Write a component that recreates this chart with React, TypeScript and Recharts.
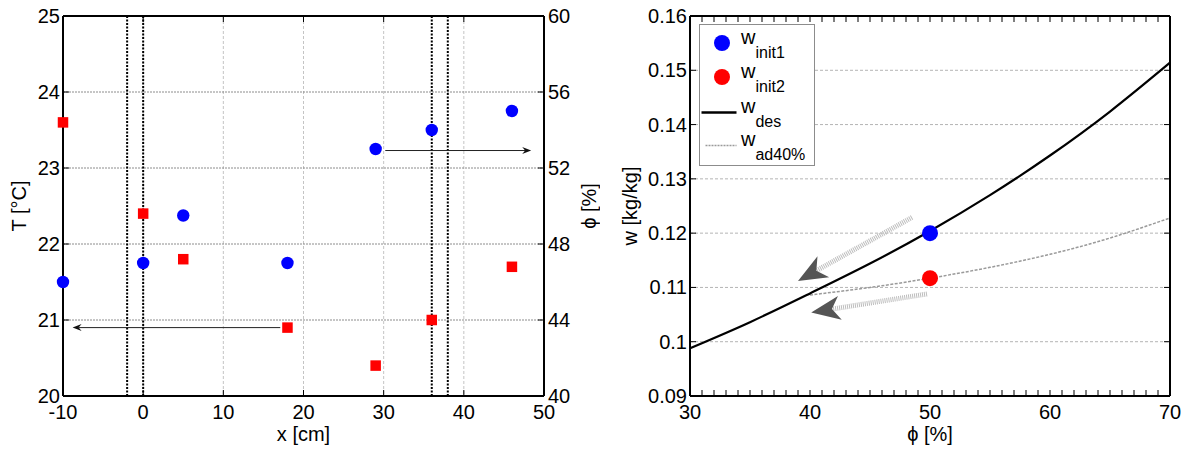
import React from 'react';
import { ComposedChart, Scatter, Line, XAxis, YAxis, CartesianGrid, ReferenceLine, Legend } from 'recharts';

const FONT = '"Liberation Sans", Arial, Helvetica, sans-serif';

// left panel: temperature (left axis) and humidity (right axis) along the duct
const positions = [-10, 0, 5, 18, 29, 36, 46];
const temperature = [23.6, 22.4, 21.8, 20.9, 20.4, 21.0, 21.7];
const humidity = [46, 47, 49.5, 47, 53, 54, 55];
const xTicks = [-10, 0, 10, 20, 30, 40, 50];
const tTicks = [20, 21, 22, 23, 24, 25];
const phiTicks = [40, 44, 48, 52, 56, 60];
const wallLines = [-2, 0, 36, 38];
const tArrow = [{ x: 17.1, y: 20.9 }, { x: -8.8, y: 20.9 }];
const phiArrow = [{ x: 30.2, y: 23.23 }, { x: 48.4, y: 23.23 }];

// right panel: humidity ratio vs relative humidity
const phiDes = [30, 35, 40, 45, 50, 55, 60, 65, 70];
const wDes = [0.0988, 0.1036, 0.1089, 0.1144, 0.1204, 0.127, 0.1343, 0.1424, 0.1514];
const phiAd = [40, 45, 50, 55, 60, 65, 70];
const wAd = [0.1086, 0.11, 0.1117, 0.1137, 0.1161, 0.1191, 0.1228];
const wInit1 = [{ x: 50, y: 0.12 }];
const wInit2 = [{ x: 50, y: 0.1117 }];
const phiMajor = [30, 40, 50, 60, 70];
const phiMinor = Array.from({ length: 41 }, (_, i) => 30 + i);
const wTicks = [0.09, 0.1, 0.11, 0.12, 0.13, 0.14, 0.15, 0.16];
const wArrows = [
  [{ x: 48.5, y: 0.1229 }, { x: 39.0, y: 0.1112 }],
  [{ x: 49.75, y: 0.1088 }, { x: 40.1, y: 0.1054 }],
];
const legendOrder = ['w_init1', 'w_init2', 'w_des', 'w_ad40%'];

const AXIS = { stroke: '#000', strokeWidth: 2 };
const TL = 6;
const PLOT_TOP = 16;

// inward MATLAB-style ticks; mirrorY / mirrorX add the matching tick on the opposite frame edge
function AxisTick(props: any) {
  const { x, y, payload, side, labels, fmt, mirrorY, mirrorX } = props;
  const v = payload.value;
  const show = !labels || labels.includes(v);
  const txt = fmt ? fmt(v) : String(v);
  const common = { fontSize: 20, fontFamily: FONT, fill: '#000' };
  if (side === 'bottom')
    return (
      <g>
        <line x1={x} x2={x} y1={y} y2={y - TL} stroke="#000" strokeWidth={1} />
        {mirrorY != null && <line x1={x} x2={x} y1={mirrorY} y2={mirrorY + TL} stroke="#000" strokeWidth={1} />}
        {show && <text x={x} y={y + 22.5} textAnchor="middle" {...common}>{txt}</text>}
      </g>
    );
  if (side === 'left')
    return (
      <g>
        <line x1={x} x2={x + TL} y1={y} y2={y} stroke="#000" strokeWidth={1} />
        {mirrorX != null && <line x1={mirrorX} x2={mirrorX - TL} y1={y} y2={y} stroke="#000" strokeWidth={1} />}
        {show && <text x={x - 3} y={y + 7} textAnchor="end" {...common}>{txt}</text>}
      </g>
    );
  return (
    <g>
      <line x1={x} x2={x - TL} y1={y} y2={y} stroke="#000" strokeWidth={1} />
      {show && <text x={x + 4} y={y + 7} textAnchor="start" {...common}>{txt}</text>}
    </g>
  );
}

// rotated axis title, centred on the axis box
const vAxisLabel = (text: string, side: 'left' | 'right', offset: number) => (p: any) => {
  const vb = p.viewBox || {};
  const cx = side === 'left' ? vb.x + offset : vb.x + vb.width - offset;
  const cy = vb.y + vb.height / 2;
  return (
    <text x={cx} y={cy} transform={`rotate(-90 ${cx} ${cy})`} textAnchor="middle" dominantBaseline="central"
      style={{ fontSize: 20, fontFamily: FONT }} fill="#000">
      {text}
    </text>
  );
};

const dotShape = (r: number, color: string) => (p: any) => <circle cx={p.cx} cy={p.cy} r={r} fill={color} />;
const squareShape = (p: any) => <rect x={p.cx - 5.25} y={p.cy - 5.25} width={10.5} height={10.5} fill="#ff0000" />;

const arrowShape = (fat: boolean) => (p: any) => {
  const { x1, y1, x2, y2 } = p;
  const len = Math.hypot(x2 - x1, y2 - y1) || 1;
  const ux = (x2 - x1) / len, uy = (y2 - y1) / len;
  const nx = -uy, ny = ux;
  const s = fat ? { back: 29, half: 12, notch: 21 } : { back: 9, half: 3.5, notch: 6 };
  const bx = x2 - ux * s.back, by = y2 - uy * s.back;
  const mx = x2 - ux * s.notch, my = y2 - uy * s.notch;
  const pts = [[x2, y2], [bx + nx * s.half, by + ny * s.half], [mx, my], [bx - nx * s.half, by - ny * s.half]]
    .map((q) => q.join(',')).join(' ');
  return (
    <g>
      {fat ? (
        <line x1={x1} y1={y1} x2={mx} y2={my} stroke="#bdbdbd" strokeWidth={5} strokeDasharray="1 1" />
      ) : (
        <line x1={x1} y1={y1} x2={mx} y2={my} stroke="#222" strokeWidth={1} />
      )}
      <polygon points={pts} fill={fat ? '#555' : '#111'} />
    </g>
  );
};

const labelStyle = { fontSize: 20, fontFamily: FONT, fill: '#000' };

function ProfileChart() {
  const tData = positions.map((x, i) => ({ x, y: temperature[i] }));
  const phiData = positions.map((x, i) => ({ x, y: humidity[i] }));
  return (
    <ComposedChart width={600} height={450} margin={{ top: 15, right: 0, bottom: 0, left: 0 }}>
      <CartesianGrid xAxisId="b" yAxisId="l" horizontal={false} stroke="#c4c4c4" strokeDasharray="3 2" />
      <CartesianGrid xAxisId="b" yAxisId="l" vertical={false} stroke="#8c8c8c" strokeDasharray="2 1" />
      <XAxis xAxisId="b" dataKey="x" type="number" domain={[-10, 50]} ticks={xTicks} interval={0}
        height={54} tickSize={0} tickMargin={0} axisLine={AXIS} tickLine={false}
        tick={<AxisTick side="bottom" mirrorY={PLOT_TOP} />}
        label={{ value: 'x [cm]', position: 'insideBottom', offset: 9, style: { fontSize: 20 }, ...labelStyle }} />
      <XAxis xAxisId="t" orientation="top" dataKey="x" type="number" domain={[-10, 50]} ticks={xTicks}
        height={1} tickSize={0} tickMargin={0} axisLine={AXIS} tickLine={false} tick={false} />
      <YAxis yAxisId="l" dataKey="y" type="number" domain={[20, 25]} ticks={tTicks} interval={0}
        width={63} tickSize={0} tickMargin={0} axisLine={AXIS} tickLine={false} tick={<AxisTick side="left" />}
        label={vAxisLabel('T [°C]', 'left', 19)} />
      <YAxis yAxisId="r" orientation="right" dataKey="y" type="number" domain={[40, 60]} ticks={phiTicks} interval={0}
        width={56} tickSize={0} tickMargin={0} axisLine={AXIS} tickLine={false} tick={<AxisTick side="right" />}
        label={vAxisLabel('ϕ [%]', 'right', 11)} />
      {wallLines.map((x) => (
        <ReferenceLine key={x} xAxisId="b" yAxisId="l" x={x} stroke="#000" strokeWidth={2} strokeDasharray="2 1.5" />
      ))}
      <Scatter xAxisId="b" yAxisId="l" data={tData} name="T" fill="#ff0000" shape={squareShape} isAnimationActive={false} />
      <Scatter xAxisId="b" yAxisId="r" data={phiData} name="phi" fill="#0000ff" shape={dotShape(6.2, '#0000ff')} isAnimationActive={false} />
      <ReferenceLine xAxisId="b" yAxisId="l" segment={tArrow} shape={arrowShape(false)} />
      <ReferenceLine xAxisId="b" yAxisId="l" segment={phiArrow} shape={arrowShape(false)} />
    </ComposedChart>
  );
}

function LegendBox(props: any) {
  const items = [...(props.payload || [])].sort(
    (a: any, b: any) => legendOrder.indexOf(a.value) - legendOrder.indexOf(b.value)
  );
  const rowY = [19, 53, 88.5, 121.5];
  return (
    <svg width={116} height={142} style={{ display: 'block' }}>
      <rect x={0.5} y={0.5} width={115} height={141} fill="#fff" stroke="#8c8c8c" />
      {items.map((it: any, i: number) => {
        const y = rowY[i];
        const [main, sub] = String(it.value).split('_');
        return (
          <g key={it.value}>
            {it.type === 'circle' ? (
              <circle cx={23} cy={y} r={8} fill={it.color} />
            ) : (
              <line x1={it.type === 'line' ? 2.5 : 6.5} x2={37.5} y1={y} y2={y} stroke={it.color}
                strokeWidth={it.type === 'line' ? 2.5 : 1.5} strokeDasharray={it.type === 'plainline' ? '2 1' : undefined} />
            )}
            <text x={42} y={y + 0.5} fontSize={20} fontFamily={FONT} fill="#000">
              {main}
              <tspan dy={14} fontSize={16}>{sub}</tspan>
            </text>
          </g>
        );
      })}
    </svg>
  );
}

function HumidityChart() {
  const desData = phiDes.map((x, i) => ({ x, y: wDes[i] }));
  const adData = phiAd.map((x, i) => ({ x, y: wAd[i] }));
  const fmt = (v: number) => String(Number(v.toFixed(2)));
  return (
    <ComposedChart width={592} height={450} margin={{ top: 15, right: 21, bottom: 0, left: 0 }}>
      <CartesianGrid xAxisId="b" yAxisId="l" vertical={false} stroke="#b4b4b4" strokeDasharray="3 2" />
      <XAxis xAxisId="b" dataKey="x" type="number" domain={[30, 70]} ticks={phiMinor} interval={0}
        height={54} tickSize={0} tickMargin={0} axisLine={AXIS} tickLine={false}
        tick={<AxisTick side="bottom" labels={phiMajor} mirrorY={PLOT_TOP} />}
        label={{ value: 'ϕ [%]', position: 'insideBottom', offset: 9, style: { fontSize: 20 }, ...labelStyle }} />
      <XAxis xAxisId="t" orientation="top" dataKey="x" type="number" domain={[30, 70]} ticks={phiMajor}
        height={1} tickSize={0} tickMargin={0} axisLine={AXIS} tickLine={false} tick={false} />
      <YAxis yAxisId="l" dataKey="y" type="number" domain={[0.09, 0.16]} ticks={wTicks} interval={0}
        width={90} tickSize={0} tickMargin={0} axisLine={AXIS} tickLine={false}
        tick={<AxisTick side="left" fmt={fmt} mirrorX={570} />}
        label={vAxisLabel('w [kg/kg]', 'left', 30)} />
      <YAxis yAxisId="r" orientation="right" dataKey="y" type="number" domain={[0.09, 0.16]} ticks={wTicks}
        width={1} tickSize={0} tickMargin={0} axisLine={AXIS} tickLine={false} tick={false} />
      <Scatter xAxisId="b" yAxisId="l" data={wInit1} name="w_init1" fill="#0000ff" legendType="circle"
        shape={dotShape(8, '#0000ff')} isAnimationActive={false} />
      <Scatter xAxisId="b" yAxisId="l" data={wInit2} name="w_init2" fill="#ff0000" legendType="circle"
        shape={dotShape(8, '#ff0000')} isAnimationActive={false} />
      <Line xAxisId="b" yAxisId="l" data={adData} dataKey="y" name="w_ad40%" type="natural" stroke="#9a9a9a"
        strokeWidth={1.5} strokeDasharray="3 1.5" dot={false} activeDot={false} legendType="plainline" isAnimationActive={false} />
      <Line xAxisId="b" yAxisId="l" data={desData} dataKey="y" name="w_des" type="natural" stroke="#000"
        strokeWidth={2.2} dot={false} activeDot={false} legendType="line" isAnimationActive={false} />
      {wArrows.map((seg, i) => (
        <ReferenceLine key={i} xAxisId="b" yAxisId="l" segment={seg} shape={arrowShape(true)} />
      ))}
      <Legend layout="vertical" align="center" verticalAlign="middle" content={<LegendBox />}
        wrapperStyle={{ left: 99, top: 24, width: 116, height: 142 }} />
    </ComposedChart>
  );
}

export default function App() {
  return (
    <div style={{ position: 'absolute', left: 0, top: 0, width: 1192, height: 450, background: '#fff', fontFamily: FONT }}>
      <div style={{ position: 'absolute', left: 0, top: 0 }}>
        <ProfileChart />
      </div>
      <div style={{ position: 'absolute', left: 600, top: 0 }}>
        <HumidityChart />
      </div>
    </div>
  );
}
